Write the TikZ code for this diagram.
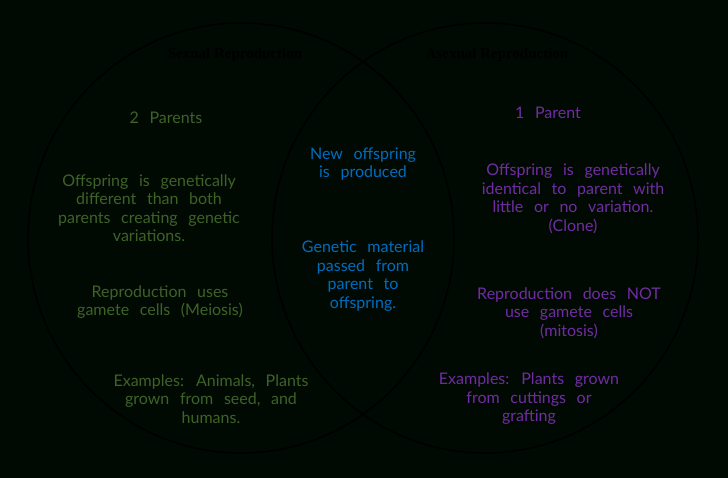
\documentclass[tikz,border=0pt]{standalone}
\usepackage{fontspec}
\setmainfont{Liberation Serif}
\newfontfamily\handfont[WordSpace=2.6]{Lato}
\definecolor{bgdark}{RGB}{1,10,2}
\definecolor{sexgreen}{RGB}{62,98,40}
\definecolor{bothblue}{RGB}{0,108,190}
\definecolor{asexpurple}{RGB}{112,44,162}
\tikzset{
  venn/.style={
    draw=black, line width=1.5pt
  },
  heading/.style={
    font=\bfseries\fontsize{15}{18}\selectfont, text=black
  },
  note/.style={
    align=center, inner sep=0pt,
    font=\handfont\fontsize{16}{18.5}\selectfont
  },
  sexual/.style={
    note, text=sexgreen
  },
  both/.style={
    note, text=bothblue
  },
  asexual/.style={
    note, text=asexpurple
  }
}
\begin{document}
\begin{tikzpicture}[x=1pt, y=-1pt]
  \fill[bgdark] (0,0) rectangle (728,478);
  % the two sets
  \draw[venn] (241,238) ellipse [x radius=213pt, y radius=215pt];
  \draw[venn] (485,238) ellipse [x radius=213pt, y radius=215pt];
  \node[heading] (sex-title) at (235,55) {Sexual Reproduction};
  \node[heading] (asex-title) at (497,55) {Asexual Reproduction};
  % sexual side
  \node[sexual] (sex-parents) at (166,118) {2 Parents};
  \node[sexual] (sex-offspring) at (149,208) {Offspring is genetically\\different than both\\parents creating genetic\\variations.};
  \node[sexual] (sex-cells) at (160,302) {Reproduction uses\\gamete cells (Meiosis)};
  \node[sexual] (sex-examples) at (211,399) {Examples: Animals, Plants\\grown from seed, and\\humans.};
  % overlap
  \node[both] (both-new) at (363,164) {New offspring\\is produced};
  \node[both] (both-genetic) at (363,276) {Genetic material\\passed from\\parent to\\offspring.};
  % asexual side
  \node[asexual] (asex-parent) at (548,113) {1 Parent};
  \node[asexual] (asex-offspring) at (573,199) {Offspring is genetically\\identical to parent with\\little or no variation.\\(Clone)};
  \node[asexual] (asex-cells) at (569,313) {Reproduction does NOT\\use gamete cells\\(mitosis)};
  \node[asexual] (asex-examples) at (529,399) {Examples: Plants grown\\from cuttings or\\grafting};
\end{tikzpicture}
\end{document}
